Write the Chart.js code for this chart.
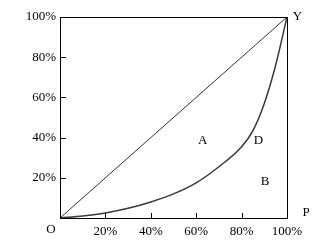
<!DOCTYPE html>
<html>
<head>
<meta charset="utf-8">
<script src="https://cdn.jsdelivr.net/npm/chart.js@4/dist/chart.umd.min.js"></script>
<style>
  html, body { margin: 0; padding: 0; background: #fff; }
  canvas { display: block; }
</style>
</head>
<body>
<canvas id="lorenz" width="324" height="250"></canvas>
<script>
// population share (P) and income share for the curve
var curveP = [0, 10, 20, 30, 40, 50, 60, 70, 80, 85, 90, 95, 100];
var curveY = [0, 1, 2.5, 4.8, 8, 12, 17.5, 25.5, 35.5, 43.5, 57, 76, 100];
// line of equality
var diagP = [0, 100];
var diagY = [0, 100];
var tickValues = [0, 20, 40, 60, 80, 100];

// text marks on the chart
var markText = ['A', 'D', 'B', 'Y', 'P', 'O'];
var markX = [62.9, 87.4, 90.3, 104.6, 108.4, -4];
var markY = [38.3, 38.3, 17.9, 100, 2.5, -6];

var serif = "'Liberation Serif', 'DejaVu Serif', serif";

function toPoints(xs, ys) {
    return xs.map(function (x, i) { return { x: x, y: ys[i] } })
}

const framePlugin = {
    id: 'frame',
    afterDraw: function (chart) {
        const ctx = chart.ctx
        const area = chart.chartArea
        const xs = chart.scales.x
        const ys = chart.scales.y
        ctx.save()
        ctx.strokeStyle = '#000'
        ctx.lineWidth = 1
        ctx.strokeRect(Math.round(area.left) + 0.5, Math.round(area.top) + 0.5,
            Math.round(area.right - area.left), Math.round(area.bottom - area.top))
        // inward tick marks
        ctx.beginPath()
        tickValues.forEach(function (v) {
            if (v === 0 || v === 100) return
            var py = Math.round(ys.getPixelForValue(v)) + 0.5
            ctx.moveTo(area.left, py)
            ctx.lineTo(area.left + 6, py)
            var px = Math.round(xs.getPixelForValue(v)) + 0.5
            ctx.moveTo(px, area.bottom)
            ctx.lineTo(px, area.bottom - 5)
        })
        ctx.stroke()
        // letters
        ctx.fillStyle = '#000'
        ctx.font = '13px ' + serif
        ctx.textAlign = 'center'
        ctx.textBaseline = 'middle'
        markText.forEach(function (t, i) {
            ctx.fillText(t, xs.getPixelForValue(markX[i]), ys.getPixelForValue(markY[i]))
        })
        ctx.restore()
    }
}

new Chart('lorenz', {
    type: 'scatter',
    data: {
        datasets: [{
            data: toPoints(diagP, diagY),
            showLine: true,
            borderColor: '#333',
            borderWidth: 1,
            pointRadius: 0
        }, {
            data: toPoints(curveP, curveY),
            showLine: true,
            borderColor: '#3a3a3a',
            borderWidth: 1.5,
            pointRadius: 0,
            cubicInterpolationMode: 'monotone'
        }]
    },
    options: {
        responsive: false,
        animation: false,
        layout: { padding: { top: 17, right: 37, left: 0, bottom: 0 } },
        plugins: { legend: { display: false }, tooltip: { enabled: false } },
        scales: {
            x: {
                min: 0, max: 100,
                afterFit: function (s) { s.height = 32 },
                grid: { display: false, drawTicks: false },
                border: { display: false },
                ticks: {
                    stepSize: 20, padding: 6, color: '#000', maxRotation: 0,
                    font: { family: serif, size: 13 },
                    callback: function (v) { return v === 0 ? '' : v + '%' }
                }
            },
            y: {
                min: 0, max: 100,
                afterFit: function (s) { s.width = 60 },
                grid: { display: false, drawTicks: false },
                border: { display: false },
                ticks: {
                    stepSize: 20, padding: 4, color: '#000',
                    font: { family: serif, size: 13 },
                    callback: function (v) { return v === 0 ? '' : v + '%' }
                }
            }
        }
    },
    plugins: [framePlugin]
})
</script>
</body>
</html>
